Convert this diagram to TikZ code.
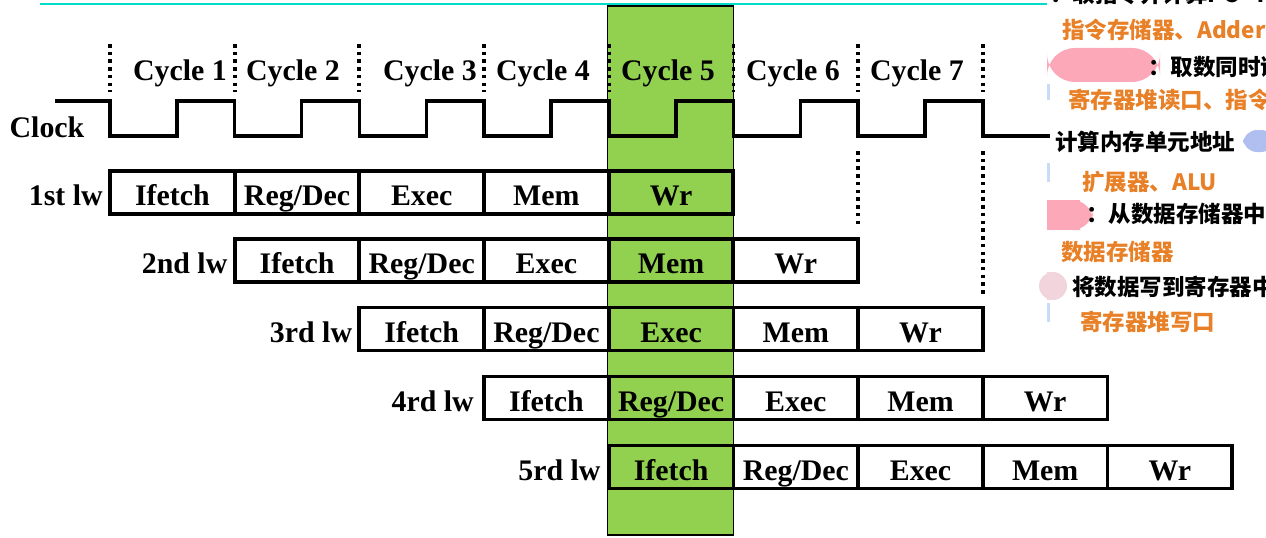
\documentclass[tikz,border=0pt]{standalone}
\usepackage{fontspec}
\setmainfont{Liberation Serif}
\newfontfamily\cjk{Noto Sans CJK SC}
\usetikzlibrary{positioning}
\definecolor{hlgreen}{RGB}{146,208,80}
\definecolor{partorange}{RGB}{232,128,40}
\definecolor{topcyan}{RGB}{0,220,200}
\definecolor{blurpink}{RGB}{252,168,184}
\definecolor{blurpale}{RGB}{242,212,220}
\definecolor{blurblue}{RGB}{176,190,240}
\definecolor{barblue}{RGB}{200,220,248}

\begin{document}
\begin{tikzpicture}[x=0.02cm, y=-0.02cm, node distance=0pt,
    stage/.style = {draw, line width=2.2pt, minimum width=2.494cm, minimum height=0.86cm, inner sep=0pt, outer sep=0pt, text height=15pt, text depth=0pt, font=\fontsize{17}{20}\selectfont\bfseries},
    lbl/.style = {inner sep=0pt, text height=15pt, text depth=0pt, font=\fontsize{17}{20}\selectfont\bfseries},
    tick/.style = {line width=2.2pt, dash pattern=on 2pt off 2.4pt},
    note/.style = {inner sep=0pt, anchor=west, font=\cjk\fontsize{12.8}{14}\selectfont\bfseries},
    part/.style = {note, text=partorange}]
    \useasboundingbox (0,0) rectangle (1266,537);
    \clip (0,0) rectangle (1266,537);
    % highlighted cycle
    \draw[line width=0.85pt, fill=hlgreen] (607.5,6) rectangle (733.5,535);
    \draw[topcyan, line width=1.1pt] (40,4) -- (1047,4);
    % clock
    \node[lbl] (clk) at (47,124) {Clock};
    \draw[line width=2pt] (55,101) -- (110,101) -- (110,136) -- (177,136) -- (177,101)
        -- (234.7,101) -- (234.7,136) -- (301.7,136) -- (301.7,101)
        -- (359.4,101) -- (359.4,136) -- (426.4,136) -- (426.4,101)
        -- (484.1,101) -- (484.1,136) -- (551.1,136) -- (551.1,101)
        -- (608.8,101) -- (608.8,136) -- (675.8,136) -- (675.8,101)
        -- (733.5,101) -- (733.5,136) -- (800.5,136) -- (800.5,101)
        -- (858.2,101) -- (858.2,136) -- (925.2,136) -- (925.2,101)
        -- (982.9,101) -- (982.9,136) -- (1050,136);
    \draw[tick] (110,44) -- (110,92);
    \draw[tick] (234.7,44) -- (234.7,92);
    \draw[tick] (359.4,44) -- (359.4,92);
    \draw[tick] (484.1,44) -- (484.1,92);
    \draw[tick] (608.8,44) -- (608.8,92);
    \draw[tick] (733.5,44) -- (733.5,92);
    \draw[tick] (858.2,44) -- (858.2,92);
    \draw[tick] (982.9,44) -- (982.9,92);
    \draw[tick] (858.2,151) -- (858.2,227);
    \draw[tick] (982.9,151) -- (982.9,296);
    \node[lbl] (c1) at (180,67) {Cycle 1};
    \node[lbl] (c2) at (293,67) {Cycle 2};
    \node[lbl] (c3) at (430,67) {Cycle 3};
    \node[lbl] (c4) at (543,67) {Cycle 4};
    \node[lbl] (c5) at (668,67) {Cycle 5};
    \node[lbl] (c6) at (793,67) {Cycle 6};
    \node[lbl] (c7) at (917,67) {Cycle 7};
    % 1st lw
    \node[stage] (a1) at (172.35,192.5) {Ifetch};
    \node[stage, right=of a1] (a2) {Reg/Dec};
    \node[stage, right=of a2] (a3) {Exec};
    \node[stage, right=of a3] (a4) {Mem};
    \node[stage, right=of a4] (a5) {Wr};
    \node[lbl, left=0.14cm of a1] (la) {1st lw};
    % 2nd lw
    \node[stage] (b1) at (297.05,260.5) {Ifetch};
    \node[stage, right=of b1] (b2) {Reg/Dec};
    \node[stage, right=of b2] (b3) {Exec};
    \node[stage, right=of b3] (b4) {Mem};
    \node[stage, right=of b4] (b5) {Wr};
    \node[lbl, left=0.14cm of b1] (lb) {2nd lw};
    % 3rd lw
    \node[stage] (d1) at (421.75,329) {Ifetch};
    \node[stage, right=of d1] (d2) {Reg/Dec};
    \node[stage, right=of d2] (d3) {Exec};
    \node[stage, right=of d3] (d4) {Mem};
    \node[stage, right=of d4] (d5) {Wr};
    \node[lbl, left=0.14cm of d1] (ld) {3rd lw};
    % 4rd lw
    \node[stage] (e1) at (546.45,398) {Ifetch};
    \node[stage, right=of e1] (e2) {Reg/Dec};
    \node[stage, right=of e2] (e3) {Exec};
    \node[stage, right=of e3] (e4) {Mem};
    \node[stage, right=of e4] (e5) {Wr};
    \node[lbl, left=0.2cm of e1] (le) {4rd lw};
    % 5rd lw
    \node[stage] (f1) at (671.15,467) {Ifetch};
    \node[stage, right=of f1] (f2) {Reg/Dec};
    \node[stage, right=of f2] (f3) {Exec};
    \node[stage, right=of f3] (f4) {Mem};
    \node[stage, right=of f4] (f5) {Wr};
    \node[lbl, left=0.16cm of f1] (lf) {5rd lw};
    % notes on the right
    \fill[blurpink, rounded corners=16] (1047,48) rectangle (1160,82);
    \fill[blurpink] (1047,200) rectangle (1080,230);
    \fill[blurpink, rounded corners=12] (1060,200) rectangle (1093,230);
    \fill[blurpale] (1047,272) rectangle (1054,300);
    \fill[blurpale] (1053,286) ellipse (14 and 14);
    \fill[blurblue, rounded corners=8] (1243,130) rectangle (1275,152);
    \fill[barblue] (1047,84) rectangle (1050,100);
    \fill[barblue] (1047,163) rectangle (1050,182);
    \fill[barblue] (1047,303) rectangle (1050,322);
    \node[note] (n0) at (1050,-6) {：取指令并计算PC+4};
    \node[part] (p0) at (1062,30) {指令存储器、Adder};
    \node[note] (n1) at (1148,67) {：取数同时译码};
    \node[part] (p1) at (1068,100) {寄存器堆读口、指令寄存器};
    \node[note] (n2) at (1055,142) {计算内存单元地址};
    \node[part] (p2) at (1082,182) {扩展器、ALU};
    \node[note] (n3) at (1086,214) {：从数据存储器中读出数据};
    \node[part] (p3) at (1061,252) {数据存储器};
    \node[note] (n4) at (1072,287) {将数据写到寄存器中};
    \node[part] (p4) at (1080,322) {寄存器堆写口};
\end{tikzpicture}
\end{document}
